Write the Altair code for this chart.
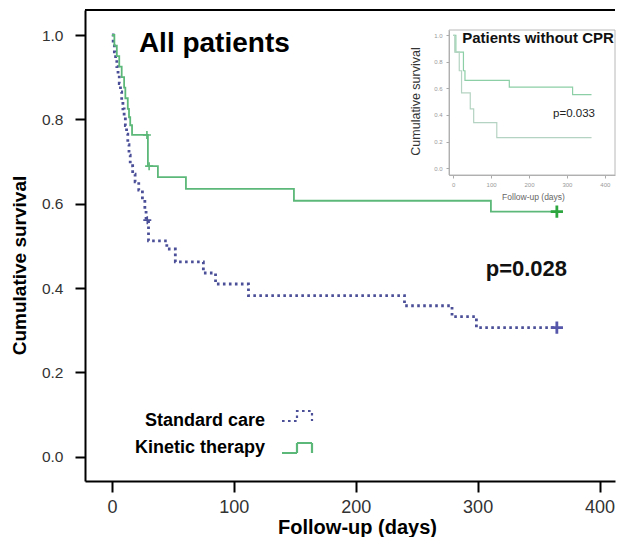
import altair as alt
import pandas as pd

FONT = "Liberation Sans"

# ---- main chart data (days, cumulative survival) ----
GROUPS = ["Standard care", "Kinetic therapy"]
COLORS = ["#4b4f97", "#5cb878"]
DASHES = [[2.6, 3.4], [1, 0]]

std_t = [0, 1, 2, 3, 4, 5, 6, 7, 8, 9, 10, 11, 12, 13, 14, 15, 17, 19, 22, 25, 27, 28, 30,
         45, 52, 75, 85, 112, 240, 279, 299, 365]
std_s = [1.0, 0.98, 0.96, 0.945, 0.925, 0.905, 0.885, 0.865, 0.845, 0.825, 0.805, 0.785,
         0.765, 0.74, 0.715, 0.69, 0.67, 0.652, 0.632, 0.609, 0.585, 0.561, 0.512,
         0.4925, 0.462, 0.4356, 0.4095, 0.382, 0.358, 0.332, 0.306, 0.306]
kin_t = [0, 2, 4, 6, 8, 10, 11, 13, 14, 15, 16.5, 29.5, 37.7, 60.7, 149.3, 310.9, 365]
kin_s = [1.0, 0.975, 0.95, 0.925, 0.9, 0.875, 0.85, 0.825, 0.805, 0.786, 0.763, 0.689,
         0.663, 0.635, 0.607, 0.581, 0.581]

# censored observations
std_cens_t = [29, 365]
std_cens_s = [0.561, 0.306]
std_cens_big = [False, True]
kin_cens_t = [28.7, 30.5, 365]
kin_cens_s = [0.763, 0.689, 0.581]
kin_cens_big = [False, False, True]

# ---- inset data (Patients without CPR) ----
ins_a_t = [0, 7, 27, 31, 148, 315, 365]
ins_a_s = [1.0, 0.873, 0.733, 0.661, 0.61, 0.553, 0.553]
ins_b_t = [0, 4, 16, 22, 45, 54, 115, 365]
ins_b_s = [1.0, 0.873, 0.733, 0.566, 0.446, 0.342, 0.23, 0.23]
INSET_COLORS = ["#8ccfa6", "#b5d3c2"]

X_TICKS = [0, 100, 200, 300, 400]
Y_TICKS = [0.0, 0.2, 0.4, 0.6, 0.8, 1.0]

# ---- layout ----
W, H = 530, 471
X_DOMAIN = [-22.1, 412.7]
Y_DOMAIN = [-0.0576, 1.0593]
INSET_X_DOMAIN = [-11.1, 426.9]
INSET_Y_DOMAIN = [-0.052, 1.04]
INSET_X_RANGE = [364, 530]
INSET_Y_RANGE = [165, 20]

curves = pd.DataFrame(
    [{"group": GROUPS[0], "t": t, "s": s} for t, s in zip(std_t, std_s)]
    + [{"group": GROUPS[1], "t": t, "s": s} for t, s in zip(kin_t, kin_s)]
)
cens = pd.DataFrame(
    [{"group": GROUPS[0], "t": t, "s": s, "big": b} for t, s, b in zip(std_cens_t, std_cens_s, std_cens_big)]
    + [{"group": GROUPS[1], "t": t, "s": s, "big": b} for t, s, b in zip(kin_cens_t, kin_cens_s, kin_cens_big)]
)

xs = alt.Scale(domain=X_DOMAIN, nice=False, zero=False)
ys = alt.Scale(domain=Y_DOMAIN, nice=False, zero=False)

LEG_COMMON = dict(
    title=None, orient="none", legendY=402,
    symbolType="M-3,0H0V-2H3V0", symbolSize=100, symbolStrokeWidth=2.2,
    symbolFillColor="transparent", symbolOffset=0,
    labelFontSize=18, labelFont=FONT, labelFontWeight="bold", labelColor="black",
    labelOffset=0, labelLimit=400, rowPadding=8, padding=0,
)
# legend showing only the line samples (its labels are hidden)
legend_symbols = alt.Legend(legendX=203, labelOpacity=0, labelAlign="left", **LEG_COMMON)
# legend showing only the right-aligned labels, to the left of the samples
legend_labels = alt.Legend(legendX=162, symbolOpacity=0, labelAlign="right", **LEG_COMMON)

x_axis = alt.Axis(
    values=X_TICKS, grid=False, domainColor="black", domainWidth=2,
    tickColor="black", tickWidth=2, tickSize=11, labelFontSize=18, labelColor="#333",
    labelPadding=6, labelFont=FONT, labelFlush=False, labelOverlap=False,
    titleFont=FONT, titleFontSize=20, titleFontWeight="bold", titleColor="black",
    titleX=272, titleY=46, titleBaseline="middle",
)
y_axis = alt.Axis(
    values=Y_TICKS, format=".1f", grid=False, domainColor="black", domainWidth=2,
    tickColor="black", tickWidth=2, tickSize=10, labelFontSize=15.5, labelColor="#333",
    labelPadding=12, labelFont=FONT, labelFlush=False, labelOverlap=False,
    titleFont=FONT, titleFontSize=19, titleFontWeight="bold", titleColor="black",
    titleX=-66, titleY=255, titleBaseline="middle", titleAngle=270,
)

lines = alt.Chart(curves).mark_line(interpolate="step-after").encode(
    x=alt.X("t:Q", scale=xs, axis=x_axis, title="Follow-up (days)"),
    y=alt.Y("s:Q", scale=ys, axis=y_axis, title="Cumulative survival"),
    color=alt.Color("group:N", scale=alt.Scale(domain=GROUPS, range=COLORS), legend=legend_symbols),
    strokeDash=alt.StrokeDash("group:N", scale=alt.Scale(domain=GROUPS, range=DASHES), legend=legend_symbols),
    strokeWidth=alt.StrokeWidth("group:N", sort=GROUPS, scale=alt.Scale(range=[2.8, 1.8]), legend=legend_labels),
)

PLUS = "M-1,0H1M0,-1V1"
cens_layers = []
for g, col, bigcol in [(GROUPS[0], COLORS[0], "#5656ab"), (GROUPS[1], COLORS[1], "#2ea640")]:
    small = alt.Chart(cens).transform_filter(
        (alt.datum.group == g) & (alt.datum.big == False)
    ).mark_point(shape=PLUS, filled=False, size=64, strokeWidth=1.6, color=col, opacity=1).encode(
        x=alt.X("t:Q", scale=xs), y=alt.Y("s:Q", scale=ys)
    )
    big = alt.Chart(cens).transform_filter(
        (alt.datum.group == g) & (alt.datum.big == True)
    ).mark_point(shape=PLUS, filled=False, size=150, strokeWidth=2.8, color=bigcol, opacity=1).encode(
        x=alt.X("t:Q", scale=xs), y=alt.Y("s:Q", scale=ys)
    )
    cens_layers += [small, big]

title_txt = alt.Chart(pd.DataFrame({"t": [84], "s": [0.96], "label": ["All patients"]})).mark_text(
    font=FONT, fontSize=28, fontWeight="bold", color="black", align="center", baseline="alphabetic"
).encode(x=alt.X("t:Q", scale=xs), y=alt.Y("s:Q", scale=ys), text="label:N")

p_txt = alt.Chart(pd.DataFrame({"t": [340], "s": [0.4275], "label": ["p=0.028"]})).mark_text(
    font=FONT, fontSize=22, fontWeight="bold", color="#111", align="center", baseline="alphabetic"
).encode(x=alt.X("t:Q", scale=xs), y=alt.Y("s:Q", scale=ys), text="label:N")

top_rule = alt.Chart(pd.DataFrame({"a": [0]})).mark_rule(color="black", strokeWidth=2).encode(
    x=alt.value(0), x2=alt.value(W), y=alt.value(0)
)

main = alt.layer(lines, *cens_layers, title_txt, p_txt, top_rule)

# ---- inset ----
ixs = alt.Scale(domain=INSET_X_DOMAIN, range=INSET_X_RANGE, nice=False, zero=False)
iys = alt.Scale(domain=INSET_Y_DOMAIN, range=INSET_Y_RANGE, nice=False, zero=False)

ix_axis = alt.Axis(
    orient="bottom", offset=-(H - INSET_Y_RANGE[0]), values=X_TICKS, grid=False,
    domainColor="#b0b0b0", domainWidth=1, tickColor="#aaa", tickSize=3, tickWidth=1,
    labelFontSize=6, labelColor="#999", labelPadding=3, labelFont=FONT,
    labelFlush=False, labelOverlap=False,
    titleFont=FONT, titleFontSize=8.5, titleFontWeight="normal", titleColor="#666",
    titleX=448, titleY=21, titleBaseline="middle", zindex=1,
)
iy_axis = alt.Axis(
    orient="left", offset=-INSET_X_RANGE[0], values=Y_TICKS, format=".1f", grid=False,
    domainColor="#b0b0b0", domainWidth=1, tickColor="#aaa", tickSize=3, tickWidth=1,
    labelFontSize=6, labelColor="#999", labelPadding=4, labelFont=FONT,
    labelFlush=False, labelOverlap=False,
    titleFont=FONT, titleFontSize=12.5, titleFontWeight="normal", titleColor="#333",
    titleX=-34, titleY=91, titleBaseline="middle", titleAngle=270, zindex=1,
)

frame = alt.Chart(pd.DataFrame({
    "x0": [INSET_X_DOMAIN[0]], "x1": [INSET_X_DOMAIN[1]],
    "y0": [INSET_Y_DOMAIN[0]], "y1": [INSET_Y_DOMAIN[1]],
})).mark_rect(fill="white", stroke="#b8b8b8", strokeWidth=1).encode(
    x=alt.X("x0:Q", scale=ixs, axis=ix_axis, title="Follow-up (days)"),
    x2="x1:Q",
    y=alt.Y("y0:Q", scale=iys, axis=iy_axis, title="Cumulative survival"),
    y2="y1:Q",
)

ins_a = alt.Chart(pd.DataFrame({"t": ins_a_t, "s": ins_a_s})).mark_line(
    interpolate="step-after", color=INSET_COLORS[0], strokeWidth=1.2
).encode(x=alt.X("t:Q", scale=ixs), y=alt.Y("s:Q", scale=iys))
ins_b = alt.Chart(pd.DataFrame({"t": ins_b_t, "s": ins_b_s})).mark_line(
    interpolate="step-after", color=INSET_COLORS[1], strokeWidth=1.2
).encode(x=alt.X("t:Q", scale=ixs), y=alt.Y("s:Q", scale=iys))

ins_title = alt.Chart(pd.DataFrame({"t": [223.7], "s": [0.94], "label": ["Patients without CPR"]})).mark_text(
    font=FONT, fontSize=15, fontWeight="bold", color="#111", align="center", baseline="alphabetic"
).encode(x=alt.X("t:Q", scale=ixs), y=alt.Y("s:Q", scale=iys), text="label:N")

ins_p = alt.Chart(pd.DataFrame({"t": [318.7], "s": [0.385], "label": ["p=0.033"]})).mark_text(
    font=FONT, fontSize=11.5, color="#222", align="center", baseline="alphabetic"
).encode(x=alt.X("t:Q", scale=ixs), y=alt.Y("s:Q", scale=iys), text="label:N")

inset = alt.layer(frame, ins_a, ins_b, ins_title, ins_p)

chart = alt.layer(main, inset).resolve_scale(x="independent", y="independent").properties(
    width=W, height=H, padding={"left": 2, "top": 1, "right": 0, "bottom": 0},
).configure_view(stroke=None)

chart.save("out.html", embed_options={"renderer": "svg", "actions": False})
